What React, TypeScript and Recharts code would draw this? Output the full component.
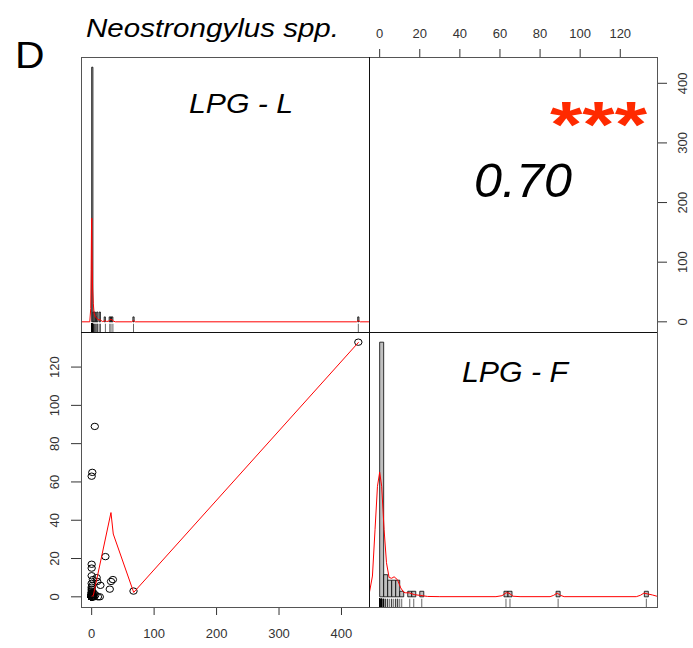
import React from 'react';
import { ComposedChart, Scatter, XAxis, YAxis, ReferenceArea, ReferenceLine } from 'recharts';

const FONT = '"Liberation Sans", Arial, Helvetica, sans-serif';

// Neostrongylus spp. larvae per gram, one entry per animal:
// LPG - L (lung) and LPG - F (faeces), same order in both arrays
const lpgL = [
  427, 67, 5, 0, 1, 22, 0, 0, 0, 8, 2, 34, 31, 9, 0, 14, 1, 0, 29, 0, 0, 13, 10, 4, 3, 6,
  0, 0, 0, 0, 0, 0, 0, 0, 0, 0, 0, 0, 0, 0, 0, 0, 0, 0, 0, 0,
  0, 0, 0, 0, 0, 0, 1, 1, 1, 1, 1, 1, 1, 1, 2, 2, 0, 0, 0, 2, 1,
];
const lpgF = [
  133, 3, 89, 63, 65, 21, 17, 15, 11, 10, 9, 9, 8, 8, 7, 6, 6, 5, 4, 4, 3, 0, 0, 0, 2, 1,
  0, 0, 0, 0, 0, 0, 0, 0, 0, 0, 0, 0, 0, 0, 0, 0, 0, 0, 0, 0,
  1, 1, 1, 1, 1, 1, 0, 0, 0, 0, 0, 1, 1, 1, 0, 0, 2, 2, 2, 1, 2,
];

const lTicks = [0, 100, 200, 300, 400];
const fTicks = [0, 20, 40, 60, 80, 100, 120];

const corrLabel = '0.70';
const signifLabel = '***';

// kernel density of each variable (x, density)
const densityL: [number, number][] = [
  [-17, 0], [-3, 0], [-1.5, 0.02], [-0.8, 0.08], [-0.3, 0.14], [0.2, 0.158], [0.8, 0.09],
  [1.5, 0.05], [2.6, 0.028], [4, 0.012], [6, 0.007], [8, 0.006], [10.6, 0.003], [14, 0.003],
  [17, 0.0005], [20, 0.001], [22, 0.002], [24, 0.0005], [27, 0.001], [31, 0.004], [35, 0.001],
  [38, 0], [64, 0], [67, 0.002], [70, 0], [424, 0], [427, 0.002], [430, 0], [444, 0],
];
const densityF: [number, number][] = [
  [-5.3, 0.003], [-3.6, 0.028], [-2.3, 0.091], [-1.1, 0.149], [0, 0.168], [1, 0.149],
  [2.2, 0.091], [3.4, 0.046], [4.7, 0.026], [6, 0.025], [7.2, 0.027], [8.9, 0.023],
  [10.5, 0.012], [12, 0.006], [13, 0.0054], [14.7, 0.0054], [17.2, 0.003], [20.5, 0.0018],
  [23.9, 0.0005], [30, 0.0002], [58, 0.0002], [61, 0.0015], [63.1, 0.0055], [64.5, 0.005],
  [66.5, 0.0008], [70, 0.0002], [85, 0.0002], [86.8, 0.002], [88.5, 0.005], [90.2, 0.002],
  [92, 0.0002], [128, 0.0002], [130, 0.002], [131.8, 0.005], [133.5, 0.004], [136, 0.0025],
  [138.3, 0.0008],
];

// local regression of LPG - F on LPG - L
const smoothLine: [number, number][] = [
  [0, 0.3], [2.6, 0.6], [30.9, 44], [34.6, 32.8], [67.3, 2.3], [427.5, 133],
];

// panel grid
const COL = [81, 369, 657];
const ROW = [57, 332, 607];
const PW = COL[1] - COL[0];
const PH = ROW[1] - ROW[0];
const BIN = 2;

const padRange = (lo: number, hi: number): [number, number] => [lo - 0.04 * (hi - lo), hi + 0.04 * (hi - lo)];

const lDom = padRange(Math.min(...lpgL), Math.max(...lpgL));
const fDom = padRange(Math.min(...lpgF), Math.max(...lpgF));

// right-closed bins of width BIN, heights as densities
function histogram(values: number[]) {
  const nb = Math.ceil(Math.max(...values) / BIN);
  const counts = new Array(nb).fill(0);
  values.forEach((v) => {
    const i = v <= 0 ? 0 : Math.ceil(v / BIN) - 1;
    counts[i] += 1;
  });
  return counts.map((c, i) => ({ x1: i * BIN, x2: (i + 1) * BIN, d: c / (values.length * BIN) }));
}

const toPts = (arr: [number, number][]) => arr.map(([x, y]) => ({ x, y }));
const pairs = lpgL.map((l, i) => ({ x: l, y: lpgF[i] }));

const Empty = () => <g />;

const OpenCircle = (props: any) => (
  <ellipse cx={props.cx} cy={props.cy} rx={3.7} ry={3.2} fill="none" stroke="#000" strokeWidth={1} />
);

const tickText = { fontFamily: FONT, fontSize: 13, fill: '#333' };

const BottomTick = (props: any) => (
  <text x={props.x} y={301} textAnchor="middle" dominantBaseline="central" {...tickText}>
    {props.payload.value}
  </text>
);
const LeftTick = (props: any) => (
  <text x={55} y={props.y} transform={`rotate(-90 55 ${props.y})`} textAnchor="middle" dominantBaseline="central" {...tickText}>
    {props.payload.value}
  </text>
);
const TopTick = (props: any) => (
  <text x={props.x} y={33} textAnchor="middle" dominantBaseline="central" {...tickText}>
    {props.payload.value}
  </text>
);
const RightTick = (props: any) => (
  <text x={314} y={props.y} transform={`rotate(-90 314 ${props.y})`} textAnchor="middle" dominantBaseline="central" {...tickText}>
    {props.payload.value}
  </text>
);

const noMargin = { top: 0, right: 0, bottom: 0, left: 0 };

function HistPanel({ values, density, xDom, left, top }: { values: number[]; density: [number, number][]; xDom: [number, number]; left: number; top: number }) {
  const bins = histogram(values);
  const maxD = Math.max(...bins.map((b) => b.d));
  const yDom = padRange(0, maxD);
  const rugLen = (yDom[1] - yDom[0]) * 0.03;
  return (
    <div style={{ position: 'absolute', left, top }}>
      <ComposedChart width={PW} height={PH} margin={noMargin}>
        <XAxis type="number" dataKey="x" domain={xDom} allowDataOverflow hide />
        <YAxis type="number" dataKey="y" domain={yDom} allowDataOverflow hide />
        {bins
          .filter((b) => b.d > 0)
          .map((b, i) => (
            <ReferenceArea key={'b' + i} x1={b.x1} x2={b.x2} y1={0} y2={b.d} fill="#c0c0c0" fillOpacity={1} stroke="#000" strokeWidth={0.8} ifOverflow="visible" />
          ))}
        <Scatter data={toPts(density)} line={{ stroke: '#ff0000', strokeWidth: 1 }} shape={Empty} isAnimationActive={false} />
        {values.map((v, i) => (
          <ReferenceLine key={'r' + i} segment={[{ x: v, y: yDom[0] }, { x: v, y: yDom[0] + rugLen }]} stroke="#000" strokeWidth={0.6} ifOverflow="visible" />
        ))}
      </ComposedChart>
    </div>
  );
}

export default function App() {
  return (
    <div style={{ position: 'absolute', left: 0, top: 0, width: 693, height: 648, background: '#fff', overflow: 'hidden' }}>
      {/* LPG - L histogram */}
      <HistPanel values={lpgL} density={densityL} xDom={lDom} left={COL[0]} top={ROW[0]} />

      {/* LPG - F histogram */}
      <HistPanel values={lpgF} density={densityF} xDom={fDom} left={COL[1]} top={ROW[1]} />

      {/* scatter, LPG - L against LPG - F */}
      <div style={{ position: 'absolute', left: 0, top: ROW[1] }}>
        <ComposedChart width={COL[1]} height={648 - ROW[1]} margin={noMargin}>
          <XAxis type="number" dataKey="x" domain={lDom} allowDataOverflow ticks={lTicks} interval={0} tickSize={8} axisLine={false} tickLine={{ stroke: '#333' }} height={648 - ROW[2]} tick={<BottomTick />} />
          <YAxis type="number" dataKey="y" domain={fDom} allowDataOverflow ticks={fTicks} interval={0} tickSize={10} axisLine={false} tickLine={{ stroke: '#333' }} width={COL[0]} tick={<LeftTick />} />
          <Scatter data={pairs} shape={OpenCircle} isAnimationActive={false} />
          <Scatter data={toPts(smoothLine)} line={{ stroke: '#ff0000', strokeWidth: 1 }} shape={Empty} isAnimationActive={false} />
        </ComposedChart>
      </div>

      {/* correlation panel with the outer axes */}
      <div style={{ position: 'absolute', left: COL[1], top: 0 }}>
        <ComposedChart width={PW + 36} height={ROW[1]} margin={noMargin}>
          <XAxis type="number" dataKey="x" orientation="top" domain={fDom} allowDataOverflow ticks={fTicks} interval={0} tickSize={8} axisLine={false} tickLine={{ stroke: '#333' }} height={ROW[0]} tick={<TopTick />} />
          <YAxis type="number" dataKey="y" orientation="right" domain={lDom} allowDataOverflow ticks={lTicks} interval={0} tickSize={10} axisLine={false} tickLine={{ stroke: '#333' }} width={36} tick={<RightTick />} />
        </ComposedChart>
      </div>

      {/* frames, titles and labels */}
      <svg width={693} height={648} style={{ position: 'absolute', left: 0, top: 0, pointerEvents: 'none' }}>
        <rect x={COL[0] + 0.5} y={ROW[0] + 0.5} width={COL[2] - COL[0]} height={ROW[2] - ROW[0]} fill="none" stroke="#555" strokeWidth={1} />
        <line x1={COL[1] + 0.5} y1={ROW[0]} x2={COL[1] + 0.5} y2={ROW[2]} stroke="#111" strokeWidth={1} />
        <line x1={COL[0]} y1={ROW[1] + 0.5} x2={COL[2]} y2={ROW[1] + 0.5} stroke="#111" strokeWidth={1} />

        <text x={15} y={68} fontFamily={FONT} fontSize={36} textLength={29.5} lengthAdjust="spacingAndGlyphs" fill="#000">D</text>
        <text x={86} y={36.7} fontFamily={FONT} fontSize={25.7} fontStyle="italic" textLength={253} lengthAdjust="spacingAndGlyphs" fill="#000">Neostrongylus spp.</text>
        <text x={189} y={113.3} fontFamily={FONT} fontSize={28} fontStyle="italic" textLength={104} lengthAdjust="spacingAndGlyphs" fill="#000">LPG - L</text>
        <text x={462} y={381.7} fontFamily={FONT} fontSize={29} fontStyle="italic" textLength={106} lengthAdjust="spacingAndGlyphs" fill="#000">LPG - F</text>
        <text x={474} y={196.7} fontFamily={FONT} fontSize={49} fontStyle="italic" textLength={98} lengthAdjust="spacingAndGlyphs" fill="#000">{corrLabel}</text>
        <text x={550} y={147} fontFamily={FONT} fontSize={64} fontWeight="bold" textLength={97} lengthAdjust="spacingAndGlyphs" fill="#ff2a00">{signifLabel}</text>
      </svg>
    </div>
  );
}
